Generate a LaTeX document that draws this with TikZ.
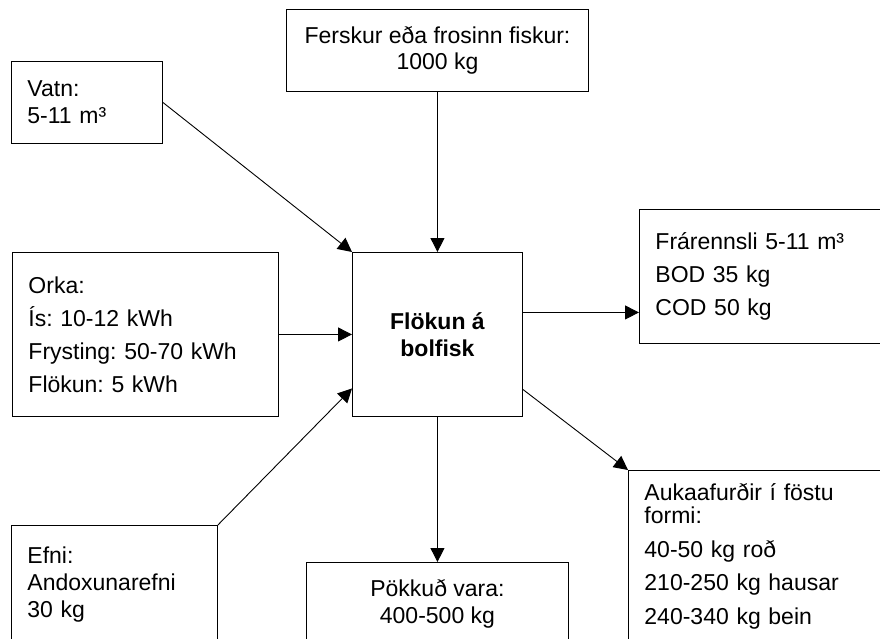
\documentclass[tikz,border=0pt]{standalone}
\usepackage{fontspec}
\setmainfont{Liberation Sans}
\usetikzlibrary{arrows.meta,calc}
\frenchspacing
\begin{document}
\begin{tikzpicture}[x=1pt,y=-1pt,
  box/.style={draw=black, line width=0.9pt, anchor=north west, inner ysep=0pt,
    font=\fontsize{23}{27}\selectfont},
  lbox/.style={box, align=left, inner xsep=16pt},
  cbox/.style={box, align=center, inner xsep=0pt},
  arr/.style={-{Triangle[length=14pt,width=14pt]}, line width=0.9pt}]
\useasboundingbox (0,0) rectangle (880,639);
\clip (0,0) rectangle (880,639);
\node[cbox, minimum width=302pt, minimum height=82pt] (fersk) at (286,9)
  {Ferskur eða frosinn fiskur:\\[-1pt]1000 kg};
\node[lbox, text width=119pt, minimum height=82pt] (vatn) at (11,61)
  {Vatn:\\5-11 m³};
\node[lbox, text width=234pt, minimum height=164pt] (orka) at (12,252)
  {Orka:\\[6pt]Ís: 10-12 kWh\\[6pt]Frysting: 50-70 kWh\\[6pt]Flökun: 5 kWh};
\node[cbox, minimum width=170pt, minimum height=164pt, font=\fontsize{23}{27}\selectfont\bfseries] (center) at (352,252)
  {Flökun á\\bolfisk};
\node[lbox, text width=228pt, minimum height=134pt] (fra) at (639,209)
  {Frárennsli 5-11 m³\\[6pt]BOD 35 kg\\[6pt]COD 50 kg};
\node[lbox, text width=238pt, minimum height=172pt] (auka) at (628,470)
  {Aukaafurðir í föstu\\[-4pt]formi:\\[7pt]40-50 kg roð\\[6pt]210-250 kg hausar\\[7pt]240-340 kg bein};
\node[lbox, text width=174pt, minimum height=118pt] (efni) at (11,525)
  {Efni:\\Andoxunarefni\\30 kg};
\node[cbox, minimum width=262pt, minimum height=82pt] (pokk) at (306,562)
  {Pökkuð vara:\\400-500 kg};
\coordinate (cA) at ([yshift=22pt]center.east);
\coordinate (cB) at ([yshift=-55pt]center.east);
\coordinate (cC) at ([yshift=-54pt]center.west);
\draw[arr] (fersk.south) -- (center.north);
\draw[arr] (vatn.east) -- (center.north west);
\draw[arr] (orka.east) -- (center.west);
\draw[arr] (efni.north east) -- (cC);
\draw[arr] (cA) -- (cA -| fra.west);
\draw[arr] (cB) -- (auka.north west);
\draw[arr] (center.south) -- (pokk.north);
\end{tikzpicture}
\end{document}
